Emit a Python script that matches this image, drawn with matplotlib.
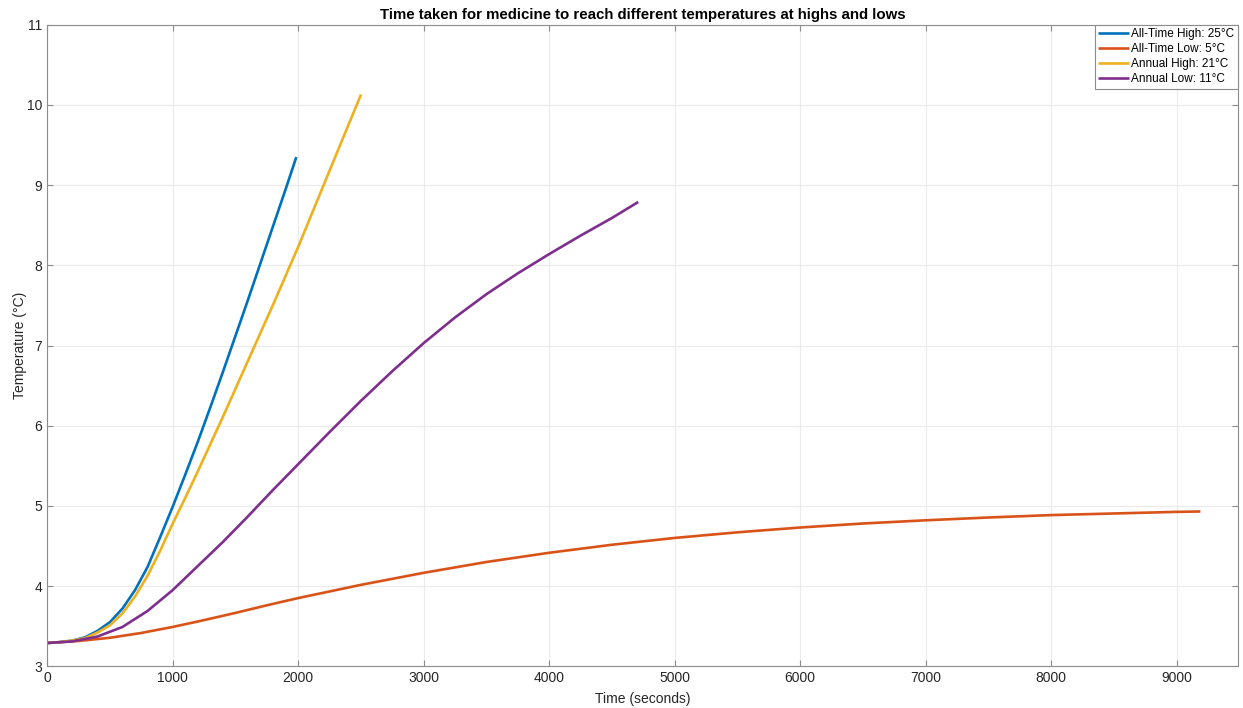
import matplotlib
matplotlib.use('Agg')
import matplotlib.pyplot as plt

plt.rcParams['font.family'] = ['Liberation Sans', 'DejaVu Sans']

# ---------------- dados ----------------
titulo = "Time taken for medicine to reach different temperatures at highs and lows"
eixoX = "Time (seconds)"
eixoY = "Temperature (°C)"

nomes = ["All-Time High: 25°C", "All-Time Low: 5°C", "Annual High: 21°C", "Annual Low: 11°C"]
cores = ["#0072BD", "#D95319", "#EDB120", "#7E2F8E"]

# All-Time High 25
t_alta_recorde = [0, 100, 200, 300, 400, 500, 600, 700, 800, 900, 1000, 1100, 1200, 1300,
                  1400, 1500, 1600, 1700, 1800, 1900, 1985]
T_alta_recorde = [3.29, 3.30, 3.32, 3.36, 3.44, 3.55, 3.72, 3.95, 4.24, 4.61, 4.99, 5.39, 5.80, 6.23,
                  6.67, 7.12, 7.57, 8.03, 8.49, 8.95, 9.35]

# All-Time Low 5
t_baixa_recorde = [0, 250, 500, 750, 1000, 1250, 1500, 1750, 2000, 2500, 3000, 3500, 4000, 4500,
                   5000, 5500, 6000, 6500, 7000, 7500, 8000, 8500, 9000, 9190]
T_baixa_recorde = [3.29, 3.315, 3.355, 3.415, 3.49, 3.575, 3.665, 3.76, 3.85, 4.015, 4.165, 4.30, 4.415, 4.515,
                   4.60, 4.67, 4.73, 4.78, 4.82, 4.855, 4.885, 4.905, 4.925, 4.93]

# Annual High 21
t_alta_anual = [0, 100, 200, 300, 400, 500, 600, 700, 800, 900, 1000, 1100, 1200, 1300,
                1400, 1500, 1600, 1700, 1800, 1900, 2000, 2100, 2200, 2300, 2400, 2501]
T_alta_anual = [3.29, 3.30, 3.32, 3.35, 3.42, 3.51, 3.66, 3.87, 4.13, 4.44, 4.78, 5.10, 5.43, 5.77,
                6.11, 6.46, 6.81, 7.16, 7.51, 7.87, 8.23, 8.61, 8.99, 9.37, 9.75, 10.13]

# Annual Low 11
t_baixa_anual = [0, 200, 400, 600, 800, 1000, 1200, 1400, 1600, 1800, 2000, 2250, 2500, 2750,
                 3000, 3250, 3500, 3750, 4000, 4250, 4500, 4710]
T_baixa_anual = [3.29, 3.31, 3.37, 3.49, 3.69, 3.95, 4.25, 4.55, 4.87, 5.20, 5.52, 5.92, 6.31, 6.68,
                 7.03, 7.35, 7.64, 7.90, 8.14, 8.37, 8.59, 8.79]

series = [(t_alta_recorde, T_alta_recorde),
          (t_baixa_recorde, T_baixa_recorde),
          (t_alta_anual, T_alta_anual),
          (t_baixa_anual, T_baixa_anual)]

# ---------------- plot ----------------
fig = plt.figure(figsize=(12.43, 7.08), dpi=100)
ax = fig.add_axes([0.038, 0.059, 0.958, 0.906])

for (t, T), nome, cor in zip(series, nomes, cores):
    ax.plot(t, T, color=cor, linewidth=1.9, label=nome, solid_capstyle='butt',
            solid_joinstyle='round')

ax.set_xlim(0, 9490)
ax.set_ylim(3, 11)
ax.set_xticks(range(0, 9001, 1000))
ax.set_yticks(range(3, 12))

ax.grid(True, color='#ebebeb', linewidth=0.8)
ax.set_axisbelow(True)
for s in ax.spines.values():
    s.set_color('#8c8c8c')
    s.set_linewidth(0.8)
ax.tick_params(direction='in', top=True, right=True, length=4, width=0.8,
               colors='#8c8c8c', labelcolor='#262626', labelsize=10)

ax.set_title(titulo, fontsize=10.8, fontweight='bold', pad=4)
ax.set_xlabel(eixoX, fontsize=10, color='#262626', labelpad=5)
ax.set_ylabel(eixoY, fontsize=10, color='#262626', labelpad=0)

leg = ax.legend(loc='upper right', fontsize=8.5, borderaxespad=0, fancybox=False,
                framealpha=1, edgecolor='#8c8c8c', handlelength=2.6, handletextpad=0.2,
                labelspacing=0.25, borderpad=0.3)
leg.get_frame().set_linewidth(0.8)

plt.savefig('out.png', dpi=100)
